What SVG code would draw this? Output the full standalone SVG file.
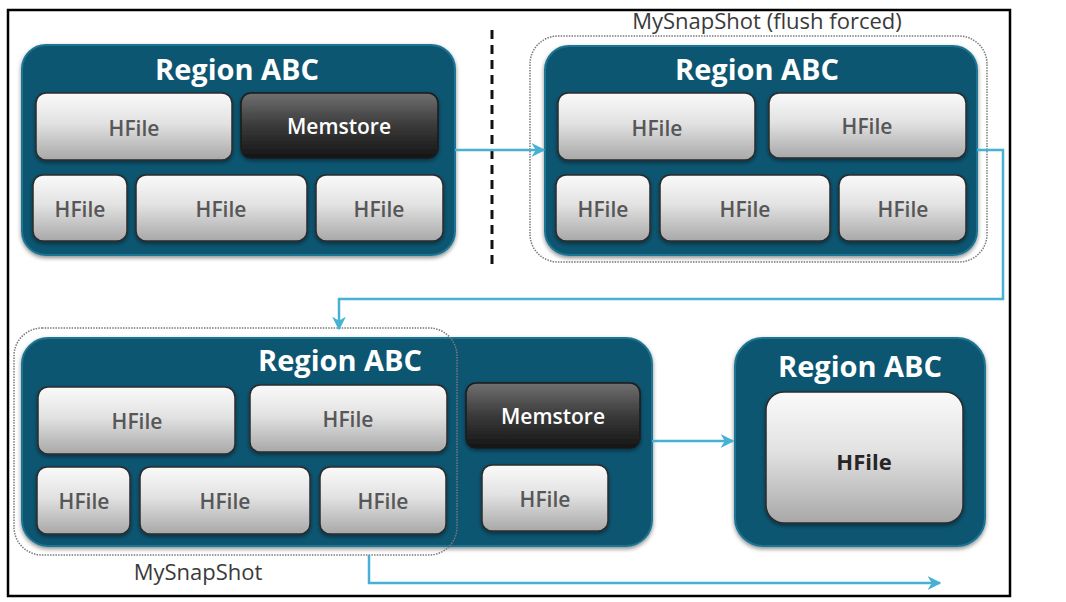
<svg xmlns="http://www.w3.org/2000/svg" width="1066" height="602" viewBox="0 0 1066 602">
<style>
.region{fill:#0f5672;stroke:#1f7593;stroke-width:2}
.hf{fill:url(#gHF);stroke:#2b2b2b;stroke-width:1.5}
.ms{fill:url(#gMS);stroke:#1a1a1a;stroke-width:1.5}
.title{font-family:"Open Sans","Liberation Sans",sans-serif;font-weight:700;font-size:29px;fill:#ffffff;text-anchor:middle}
.hft{font-family:"Open Sans","Liberation Sans",sans-serif;font-weight:600;font-size:21px;fill:#575757;text-anchor:middle}
.mst{font-family:"Open Sans","Liberation Sans",sans-serif;font-weight:600;font-size:21px;fill:#ffffff;text-anchor:middle}
.big{font-family:"Open Sans","Liberation Sans",sans-serif;font-weight:700;font-size:22px;fill:#262626;text-anchor:middle}
.snap{fill:none;stroke:#7a7a7a;stroke-width:1.5;stroke-dasharray:1.5 1.2}
.snapt{font-family:"Open Sans","Liberation Sans",sans-serif;font-size:22px;fill:#3a3a3a;text-anchor:middle}
.conn{fill:none;stroke:#47b1d3;stroke-width:2.5;marker-end:url(#arr)}
</style>
<defs>
<linearGradient id="gHF" x1="0" y1="0" x2="0" y2="1">
<stop offset="0" stop-color="#fafafa"/>
<stop offset="0.45" stop-color="#e2e2e2"/>
<stop offset="1" stop-color="#a8a8a8"/>
</linearGradient>
<linearGradient id="gMS" x1="0" y1="0" x2="0" y2="1">
<stop offset="0" stop-color="#707070"/>
<stop offset="0.5" stop-color="#3a3a3a"/>
<stop offset="1" stop-color="#151515"/>
</linearGradient>
<filter id="sh" x="-10%" y="-10%" width="120%" height="130%">
<feDropShadow dx="0" dy="2" stdDeviation="2" flood-color="#000" flood-opacity="0.45"/>
</filter>
<marker id="arr" viewBox="0 0 10 10" refX="9" refY="5" markerWidth="5.5" markerHeight="5.5" orient="auto" markerUnits="strokeWidth">
<path d="M0,0 L10,5 L0,10 L3,5 z" fill="#47b1d3"/>
</marker>
</defs>
<rect x="0" y="0" width="1066" height="602" fill="#ffffff"/>
<rect id="frame" x="8" y="10" width="1002" height="586" fill="#ffffff" stroke="#000" stroke-width="2.5"/>

<line id="divider" x1="492" y1="30" x2="492" y2="268" stroke="#111" stroke-width="3" stroke-dasharray="9 6"/>

<g id="region1">
<rect class="region" x="22" y="45" width="433" height="210" rx="24" filter="url(#sh)"/>
<text class="title" x="237" y="80">Region ABC</text>
<rect class="hf" x="36" y="93" width="196" height="67" rx="10" filter="url(#sh)"/>
<text class="hft" x="134" y="136">HFile</text>
<rect class="ms" x="241" y="93" width="197" height="65" rx="10" filter="url(#sh)"/>
<text class="mst" x="339" y="134">Memstore</text>
<rect class="hf" x="33" y="175" width="94" height="66" rx="10" filter="url(#sh)"/>
<text class="hft" x="80" y="217">HFile</text>
<rect class="hf" x="136" y="175" width="171" height="66" rx="10" filter="url(#sh)"/>
<text class="hft" x="221" y="217">HFile</text>
<rect class="hf" x="316" y="175" width="127" height="66" rx="10" filter="url(#sh)"/>
<text class="hft" x="379" y="217">HFile</text>
</g>

<g id="snapshot1">
<rect class="snap" x="530" y="36" width="457" height="226" rx="28"/>
<text class="snapt" x="767" y="29">MySnapShot (flush forced)</text>
</g>

<g id="region2">
<rect class="region" x="545" y="46" width="432" height="209" rx="24" filter="url(#sh)"/>
<text class="title" x="757" y="80">Region ABC</text>
<rect class="hf" x="558" y="93" width="197" height="67" rx="10" filter="url(#sh)"/>
<text class="hft" x="657" y="136">HFile</text>
<rect class="hf" x="769" y="93" width="197" height="65" rx="10" filter="url(#sh)"/>
<text class="hft" x="867" y="134">HFile</text>
<rect class="hf" x="556" y="175" width="94" height="66" rx="10" filter="url(#sh)"/>
<text class="hft" x="603" y="217">HFile</text>
<rect class="hf" x="660" y="175" width="170" height="66" rx="10" filter="url(#sh)"/>
<text class="hft" x="745" y="217">HFile</text>
<rect class="hf" x="839" y="175" width="127" height="66" rx="10" filter="url(#sh)"/>
<text class="hft" x="903" y="217">HFile</text>
</g>

<g id="region3">
<rect class="region" x="22" y="338" width="630" height="208" rx="26" filter="url(#sh)"/>
<text class="title" x="340" y="371">Region ABC</text>
<rect class="hf" x="38" y="387" width="197" height="67" rx="10" filter="url(#sh)"/>
<text class="hft" x="137" y="429">HFile</text>
<rect class="hf" x="250" y="385" width="197" height="67" rx="10" filter="url(#sh)"/>
<text class="hft" x="348" y="427">HFile</text>
<rect class="ms" x="466" y="383" width="174" height="65" rx="10" filter="url(#sh)"/>
<text class="mst" x="553" y="424">Memstore</text>
<rect class="hf" x="37" y="467" width="93" height="67" rx="10" filter="url(#sh)"/>
<text class="hft" x="84" y="509">HFile</text>
<rect class="hf" x="140" y="467" width="170" height="67" rx="10" filter="url(#sh)"/>
<text class="hft" x="225" y="509">HFile</text>
<rect class="hf" x="320" y="467" width="126" height="67" rx="10" filter="url(#sh)"/>
<text class="hft" x="383" y="509">HFile</text>
<rect class="hf" x="482" y="465" width="126" height="66" rx="10" filter="url(#sh)"/>
<text class="hft" x="545" y="507">HFile</text>
</g>

<g id="snapshot2">
<rect class="snap" x="14" y="328" width="443" height="227" rx="28" stroke="#555"/>
<text class="snapt" x="198" y="580">MySnapShot</text>
</g>

<g id="region4">
<rect class="region" x="735" y="338" width="250" height="208" rx="28" filter="url(#sh)"/>
<text class="title" x="860" y="377">Region ABC</text>
<rect class="hf" x="766" y="392" width="197" height="131" rx="18" filter="url(#sh)"/>
<text class="big" x="864" y="470">HFile</text>
</g>

<g id="connectors">
<path class="conn" d="M455 150 H544"/>
<path class="conn" d="M977 150 H1003 V299 H339 V329"/>
<path class="conn" d="M652 441 H733"/>
<path class="conn" d="M369 555 V583 H940"/>
</g>
</svg>
